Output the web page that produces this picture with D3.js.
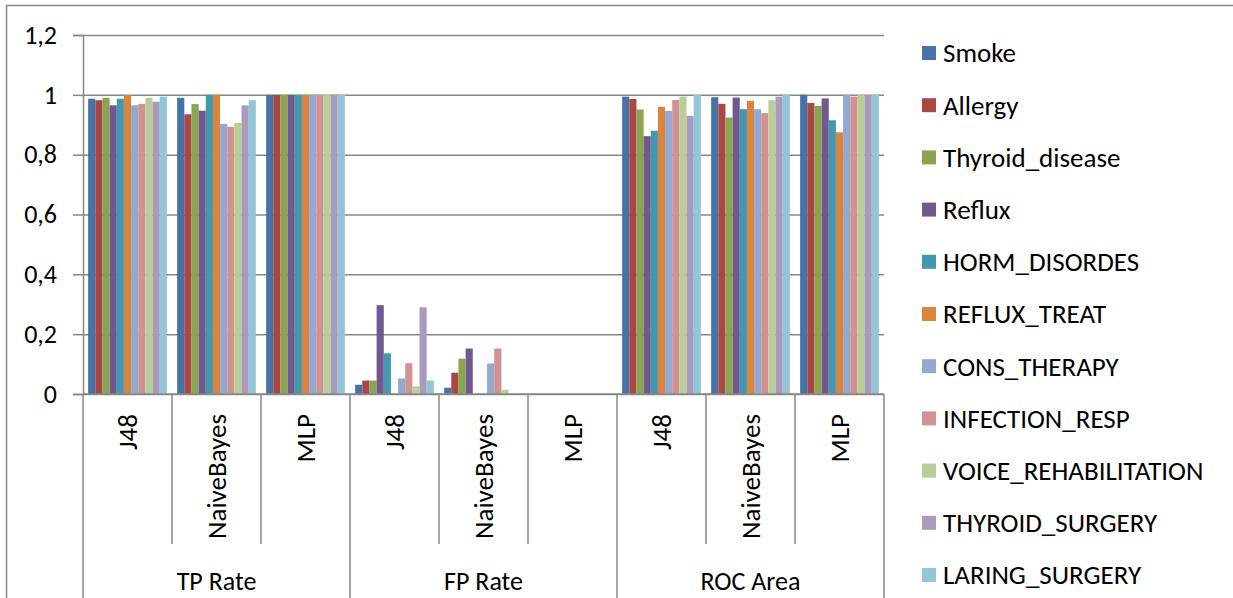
<!DOCTYPE html>
<html>
<head>
<meta charset="utf-8">
<script src="https://cdn.jsdelivr.net/npm/d3@7"></script>
<style>
  body { margin: 0; background: #fff; }
  text { font-family: Carlito, Calibri, Lato, sans-serif; fill: #000; }
</style>
</head>
<body>
<div class="chart"></div>
<script>
var metrics = ["TP Rate", "FP Rate", "ROC Area"];
var classifiers = ["J48", "NaiveBayes", "MLP"];
var seriesNames = ["Smoke", "Allergy", "Thyroid_disease", "Reflux", "HORM_DISORDES", "REFLUX_TREAT",
                   "CONS_THERAPY", "INFECTION_RESP", "VOICE_REHABILITATION", "THYROID_SURGERY", "LARING_SURGERY"];
var yTicks = [0, 0.2, 0.4, 0.6, 0.8, 1, 1.2];

// one array per metric / classifier, values in series order
var tpJ48 = [0.987, 0.982, 0.99, 0.965, 0.987, 0.999, 0.965, 0.97, 0.99, 0.977, 0.994];
var tpNaiveBayes = [0.99, 0.935, 0.969, 0.947, 1, 1, 0.903, 0.893, 0.906, 0.965, 0.982];
var tpMLP = [1, 1, 1, 1, 1, 1, 1, 1, 1, 1, 1];
var fpJ48 = [0.031, 0.045, 0.045, 0.297, 0.136, 0, 0.052, 0.103, 0.025, 0.29, 0.045];
var fpNaiveBayes = [0.021, 0.071, 0.118, 0.152, 0, 0, 0.102, 0.152, 0.014, 0, 0];
var fpMLP = [0, 0, 0, 0, 0, 0, 0, 0, 0, 0, 0];
var rocJ48 = [0.994, 0.986, 0.951, 0.862, 0.88, 0.96, 0.946, 0.983, 0.994, 0.93, 1];
var rocNaiveBayes = [0.992, 0.97, 0.924, 0.991, 0.952, 0.98, 0.952, 0.939, 0.982, 0.994, 1];
var rocMLP = [1, 0.973, 0.963, 0.988, 0.915, 0.875, 1, 0.994, 1, 1, 1];

var colors = ["#4572A7", "#AA4643", "#89A54E", "#71588F", "#4198AF", "#DB843D",
              "#93A9CF", "#D19392", "#B9CD96", "#A99BBD", "#92C5D7"];

var valueRows = [tpJ48, tpNaiveBayes, tpMLP, fpJ48, fpNaiveBayes, fpMLP, rocJ48, rocNaiveBayes, rocMLP];

var groups = [];
metrics.forEach(function(m, mi) {
  classifiers.forEach(function(c, ci) {
    groups.push({ key: m + "|" + c, metric: m, classifier: c, values: valueRows[mi * 3 + ci] });
  });
});

var w = 1233, h = 598;
var plotLeft = 83, plotRight = 884, plotTop = 35, plotBottom = 394;
var gridColor = "#878787";
var fontSize = 27;

var svg = d3.select(".chart")
            .append("svg")
            .attr("width", w)
            .attr("height", h);

// outer chart border (runs off right and bottom edges)
svg.append("rect")
   .attr("x", 6.5).attr("y", 5.5)
   .attr("width", 1240).attr("height", 620)
   .attr("fill", "none")
   .attr("stroke", gridColor)
   .attr("stroke-width", 1.5);

var x0 = d3.scaleBand()
           .domain(groups.map(function(d) { return d.key; }))
           .range([plotLeft, plotRight])
           .padding(0);

var x1 = d3.scaleBand()
           .domain(seriesNames)
           .range([0, x0.bandwidth()])
           .paddingInner(0)
           .paddingOuter(0.72);

var y = d3.scaleLinear()
          .domain([0, 1.2])
          .range([plotBottom, plotTop]);

var commaFormat = d3.formatLocale({ decimal: ",", thousands: " ", grouping: [3], currency: ["", ""] }).format("~g");

// gridlines
var grid = svg.append("g")
   .attr("transform", "translate(" + plotLeft + ",0)")
   .call(d3.axisLeft(y).tickValues(yTicks).tickSize(-(plotRight - plotLeft)).tickFormat(""));
grid.select(".domain").remove();
grid.selectAll("line").attr("stroke", gridColor).attr("stroke-width", 1.5);

// y axis with labels
var yAxis = svg.append("g")
   .attr("transform", "translate(" + plotLeft + ",0)")
   .call(d3.axisLeft(y).tickValues(yTicks).tickSize(10).tickPadding(16).tickFormat(commaFormat));
yAxis.select(".domain").attr("stroke", gridColor).attr("stroke-width", 1.5);
yAxis.selectAll("line").attr("stroke", gridColor).attr("stroke-width", 1.5);
yAxis.selectAll("text").attr("font-size", 26).attr("font-family", "Carlito, Calibri, Lato, sans-serif");

// bars
var barGroups = svg.selectAll("g.grp")
   .data(groups)
   .enter()
   .append("g")
   .attr("class", "grp")
   .attr("transform", function(d) { return "translate(" + x0(d.key) + ",0)"; });

barGroups.selectAll("rect")
   .data(function(d) { return d.values.map(function(v, i) { return { name: seriesNames[i], value: v, i: i }; }); })
   .enter()
   .append("rect")
   .attr("x", function(d) { return x1(d.name); })
   .attr("width", x1.bandwidth())
   .attr("y", function(d) { return y(d.value); })
   .attr("height", function(d) { return plotBottom - y(d.value); })
   .attr("fill", function(d) { return colors[d.i]; });

// x axis base line
svg.append("line")
   .attr("x1", plotLeft).attr("x2", plotRight)
   .attr("y1", plotBottom).attr("y2", plotBottom)
   .attr("stroke", gridColor).attr("stroke-width", 1.5);

// dividers between classifier bands and metric groups
var edges = groups.map(function(d) { return { x: x0(d.key), first: d.classifier === classifiers[0] }; });
edges.push({ x: plotRight, first: true });
svg.selectAll("line.div")
   .data(edges)
   .enter()
   .append("line")
   .attr("class", "div")
   .attr("x1", function(d) { return d.x; })
   .attr("x2", function(d) { return d.x; })
   .attr("y1", plotBottom)
   .attr("y2", function(d) { return d.first ? 598 : 544; })
   .attr("stroke", gridColor)
   .attr("stroke-width", 1.5);

// classifier labels (rotated)
svg.selectAll("text.cls")
   .data(groups)
   .enter()
   .append("text")
   .attr("class", "cls")
   .attr("transform", function(d) {
     return "translate(" + (x0(d.key) + x0.bandwidth() / 2) + ",414) rotate(-90)";
   })
   .attr("text-anchor", "end")
   .attr("dy", "0.35em")
   .attr("font-size", fontSize)
   .text(function(d) { return d.classifier; });

// metric labels
svg.selectAll("text.met")
   .data(metrics)
   .enter()
   .append("text")
   .attr("class", "met")
   .attr("x", function(m) {
     var a = x0(m + "|" + classifiers[0]);
     var b = x0(m + "|" + classifiers[2]) + x0.bandwidth();
     return (a + b) / 2;
   })
   .attr("y", 590)
   .attr("text-anchor", "middle")
   .attr("font-size", 26)
   .text(function(m) { return m; });

// legend
var legend = svg.selectAll("g.legend")
   .data(seriesNames)
   .enter()
   .append("g")
   .attr("class", "legend")
   .attr("transform", function(d, i) { return "translate(922," + (53 + i * 52.2) + ")"; });

legend.append("rect")
   .attr("x", 0).attr("y", -7)
   .attr("width", 14).attr("height", 14)
   .attr("fill", function(d, i) { return colors[i]; });

legend.append("text")
   .attr("x", 21)
   .attr("dy", "0.35em")
   .attr("font-size", fontSize)
   .text(function(d) { return d; });
</script>
</body>
</html>
